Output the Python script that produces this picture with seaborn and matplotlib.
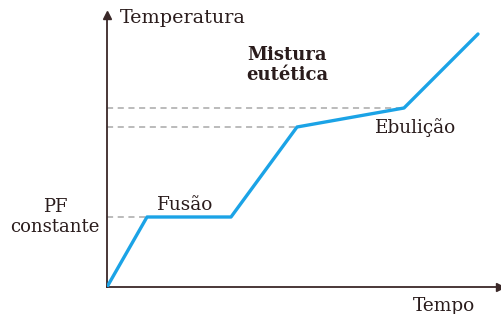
import matplotlib
matplotlib.use("Agg")
import matplotlib.pyplot as plt
import seaborn as sns
import pandas as pd

sns.set_theme(style="white")
plt.rcParams['font.family'] = ['DejaVu Serif']

# heating curve of a eutectic mixture (arbitrary units)
tempo = [0, 40, 124, 190, 297, 371]
temperatura = [0, 70, 70, 160, 179, 253]
# dashed guide levels: (temperature, time where the guide ends)
guias = [(70, 40), (160, 190), (179, 297)]

df = pd.DataFrame({"Tempo": tempo, "Temperatura": temperatura})

W, H = 501, 314
fig = plt.figure(figsize=(W / 100, H / 100), dpi=100)
ax = fig.add_axes([107 / W, 1 - 287 / H, (500 - 107) / W, (287 - 15) / H])

axis_col = "#3a2828"
text_col = "#2a1c1c"

for t, x_end in guias:
    ax.plot([0, x_end], [t, t], color="#a8a8a8", lw=1.1, ls=(0, (4, 3)), zorder=1)

sns.lineplot(data=df, x="Tempo", y="Temperatura", color="#1ba3e6", lw=2.4,
             ax=ax, zorder=3, sort=False, estimator=None)

ax.set_xlim(0, 393)
ax.set_ylim(0, 272)
ax.set_xticks([])
ax.set_yticks([])
ax.set_xlabel("")
ax.set_ylabel("")
for s in ["top", "right"]:
    ax.spines[s].set_visible(False)
for s in ["left", "bottom"]:
    ax.spines[s].set_color(axis_col)
    ax.spines[s].set_linewidth(1.3)
ax.plot(1, 0, ">", color=axis_col, ms=6, transform=ax.transAxes, clip_on=False)
ax.plot(0, 1, "^", color=axis_col, ms=6, transform=ax.transAxes, clip_on=False)


def ftext(x, y, s, size=13, **kw):
    fig.text(x / W, 1 - y / H, s, color=text_col, va="center", fontsize=size, **kw)


ftext(120, 18, "Temperatura", size=13.8, ha="left")
ftext(287, 65, "Mistura\neutética", ha="center", fontweight="bold",
      linespacing=1.15)
ftext(416, 128, "Ebulição", size=13.3, ha="center")
ftext(185, 205, "Fusão", size=13.3, ha="center")
ftext(55, 217, "PF\nconstante", ha="center", linespacing=1.2)
ftext(444, 306, "Tempo", size=13.3, ha="center")

fig.savefig("out.png", dpi=100)
